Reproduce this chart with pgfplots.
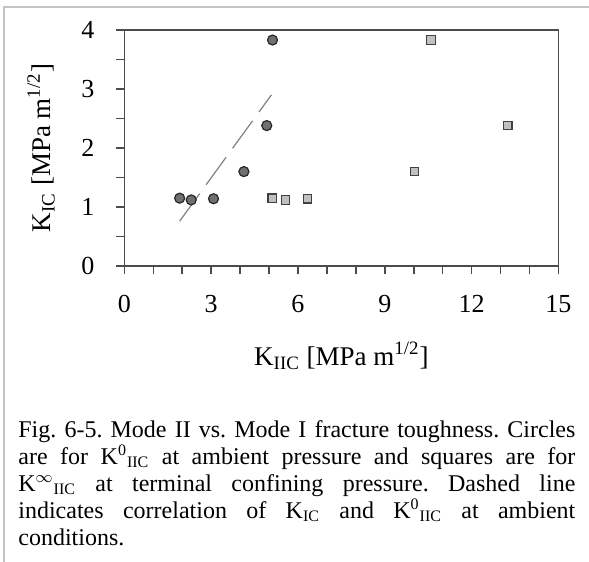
\documentclass[border=0pt]{standalone}
\usepackage{fontspec}
\setmainfont{Liberation Serif}
\usepackage{pgfplots}
\pgfplotsset{compat=1.18}

\definecolor{circfill}{HTML}{707070}
\definecolor{sqfill}{HTML}{C0C0C0}
\definecolor{framegray}{HTML}{C4C4C4}

\begin{document}
\begin{tikzpicture}
\useasboundingbox (-62.2pt,-148pt) rectangle (232.3pt,133pt);
\begin{axis}[
    at={(0pt,0pt)}, anchor=south west,
    scale only axis,
    width=217pt, height=118pt,
    xmin=0, xmax=15, ymin=0, ymax=4,
    xtick={0,3,...,15}, ytick={0,1,...,4},
    minor x tick num=2, minor y tick num=1,
    xtick pos=left, ytick pos=left,
    tick align=outside,
    major tick length=4pt, minor tick length=4pt,
    axis line style={black!70, line width=0.8pt},
    tick style={black!70, line width=0.8pt},
    ticklabel style={font=\fontsize{13}{15}\selectfont},
    xticklabel style={yshift=-7.3pt},
    yticklabel style={xshift=-7.5pt},
    /pgf/number format/assume math mode=true,
    label style={font=\fontsize{13.5}{16}\selectfont},
    xlabel={K\textsubscript{IIC} [MPa m\textsuperscript{1/2}]},
    ylabel={K\textsubscript{IC} [MPa m\textsuperscript{1/2}]},
    xlabel style={at={([yshift=-49.5pt]axis description cs:0.5,0)}, anchor=base},
    ylabel style={at={([xshift=-37pt]axis description cs:0,0.5)}, anchor=base},
    clip=false,
]
  % correlation line
  \addplot[color=gray, line width=0.6pt, dash pattern=on 17pt off 5.5pt]
    coordinates {(1.91,0.76) (5.08,2.90)};

  % K0_IIC, ambient pressure
  \addplot[only marks, mark=*, mark size=2.5pt,
           mark options={fill=circfill, draw=black!85, line width=0.6pt}]
    coordinates {
      (1.91,1.15) (2.31,1.12) (3.08,1.14)
      (4.13,1.60) (4.92,2.38) (5.12,3.83)
    };

  % Kinf_IIC, terminal confining pressure
  \addplot[only marks, mark=square*, mark size=2.1pt,
           mark options={fill=sqfill, draw=black!75, line width=0.6pt}]
    coordinates {
      (5.11,1.15) (5.57,1.12) (6.33,1.14)
      (10.03,1.60) (10.60,3.83) (13.25,2.38)
    };
\end{axis}

\draw[framegray, line width=1pt] (-60pt,-148pt) -- (-60pt,129.5pt) -- (232.3pt,129.5pt);

\node[anchor=base west, inner sep=0pt] at (-53.2pt,-85.5pt) {%
  \parbox[t]{278.5pt}{\fontsize{12}{13.55}\selectfont\frenchspacing
  Fig. 6-5. Mode II vs. Mode I fracture toughness. Circles\linebreak
  are for K\textsuperscript{0}\textsubscript{IIC} at ambient pressure and squares are for\linebreak
  K\textsuperscript{$\infty$}\textsubscript{IIC} at terminal confining pressure. Dashed line\linebreak
  indicates correlation of K\textsubscript{IC} and K\textsuperscript{0}\textsubscript{IIC} at ambient\linebreak
  conditions.}};
\end{tikzpicture}
\end{document}
